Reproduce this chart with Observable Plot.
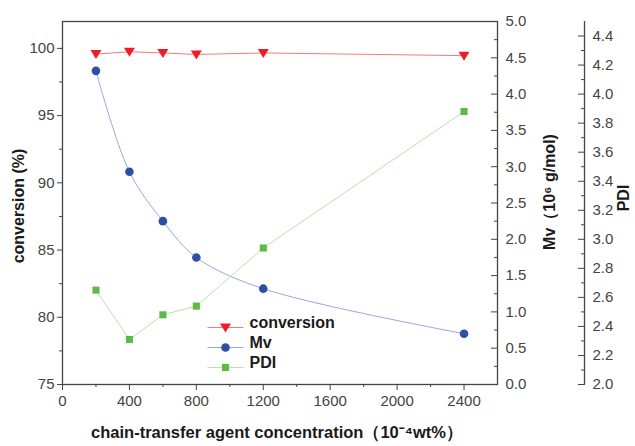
<!DOCTYPE html>
<html><head><meta charset="utf-8">
<script src="https://cdn.jsdelivr.net/npm/d3@7"></script>
<script src="https://cdn.jsdelivr.net/npm/@observablehq/plot@0.6"></script>
<style>body{margin:0;background:#fff}</style>
</head><body><div id="chart"></div>
<script>
const concentration = [200, 400, 600, 800, 1200, 2400];
const conversion = [99.58, 99.75, 99.66, 99.55, 99.66, 99.46];
const mv = [4.32, 2.93, 2.25, 1.75, 1.32, 0.70];
const pdi = [2.65, 2.31, 2.48, 2.54, 2.94, 3.88];
const seriesNames = ["conversion", "Mv", "PDI"];
const xTicks = [0, 400, 800, 1200, 1600, 2000, 2400];
const convTicks = [75, 80, 85, 90, 95, 100];
const mvTicks = [0, 0.5, 1, 1.5, 2, 2.5, 3, 3.5, 4, 4.5, 5];
const pdiTicks = [2.0, 2.2, 2.4, 2.6, 2.8, 3.0, 3.2, 3.4, 3.6, 3.8, 4.0, 4.2, 4.4];

const convDomain = [75, 102];
const mvDomain = [0, 5];
const pdiDomain = [2, 4.5];
const span = convDomain[1] - convDomain[0];
const mvY = v => convDomain[0] + (v - mvDomain[0]) / (mvDomain[1] - mvDomain[0]) * span;
const pdiY = v => convDomain[0] + (v - pdiDomain[0]) / (pdiDomain[1] - pdiDomain[0]) * span;
const mvInv = y => (y - convDomain[0]) / span * (mvDomain[1] - mvDomain[0]) + mvDomain[0];
const pdiInv = y => (y - convDomain[0]) / span * (pdiDomain[1] - pdiDomain[0]) + pdiDomain[0];

const rows = concentration.map((c, i) => ({c, conv: conversion[i], mv: mv[i], pdi: pdi[i]}));

const colors = {conversion: "#ee1c24", Mv: "#2f4fa6", PDI: "#5cbb45"};
const lineColors = {conversion: "#f37a7a", Mv: "#98a6e0", PDI: "#b9e2a6"};

const triDown = {draw(ctx) { ctx.moveTo(-5.5, -4); ctx.lineTo(5.5, -4); ctx.lineTo(0, 5); ctx.closePath(); }};
const legLine = {draw(ctx) { ctx.moveTo(-18, 0); ctx.lineTo(18, 0); }};
const symbols = {conversion: triDown, Mv: "circle", PDI: "square"};
const radii = {conversion: 4, Mv: 4.3, PDI: 4};

const axisColor = "#444";
const labelColor = "#1a1a1a";
const font = "Liberation Sans, Arial, sans-serif";

const legendMarks = seriesNames.flatMap((name, i) => {
  const dy = -57 + i * 20;
  return [
    Plot.dot([name], {frameAnchor: "bottom-left", dx: 163, dy, symbol: legLine, stroke: lineColors[name], fill: "none", strokeWidth: 1}),
    Plot.dot([name], {frameAnchor: "bottom-left", dx: 163, dy, symbol: symbols[name], r: radii[name], fill: colors[name], stroke: "none"}),
    Plot.text([name], {frameAnchor: "bottom-left", dx: 187, dy, text: d => d, textAnchor: "start", fontWeight: "bold", fontSize: 16, fill: labelColor})
  ];
});

const chart = Plot.plot({
  width: 635,
  height: 446,
  marginLeft: 62,
  marginRight: 138,
  marginTop: 21,
  marginBottom: 62,
  style: {fontFamily: font, fontSize: "15px", background: "#fff"},
  x: {domain: [0, 2600]},
  y: {domain: convDomain},
  marks: [
    Plot.frame({stroke: axisColor, strokeWidth: 1.3}),
    // left axis
    Plot.axisY(convTicks, {anchor: "left", tickSize: 5, tickPadding: 3, color: axisColor, label: null, tickFormat: d3.format("d")}),
    Plot.axisY(d3.range(77.5, 101, 5), {anchor: "left", tickSize: 3, stroke: axisColor, fill: "none", label: null}),
    // bottom axis
    Plot.axisX(xTicks, {anchor: "bottom", tickSize: 6, tickPadding: 5, color: axisColor, label: null, tickFormat: d3.format("d")}),
    Plot.axisX(d3.range(200, 2600, 400), {anchor: "bottom", tickSize: 3, stroke: axisColor, fill: "none", label: null}),
    // Mv axis (right, ticks inward)
    Plot.axisY(mvTicks.map(mvY), {anchor: "right", tickSize: -7, stroke: axisColor, fill: "none", label: null}),
    Plot.axisY(d3.range(0.25, 5, 0.5).map(mvY), {anchor: "right", tickSize: -4, stroke: axisColor, fill: "none", label: null}),
    Plot.axisY(mvTicks.map(mvY), {anchor: "right", tickSize: 0, tickPadding: 8, color: axisColor, label: null, tickFormat: d => mvInv(d).toFixed(1)}),
    // PDI axis (offset)
    Plot.ruleX([2600], {dx: 87, stroke: axisColor, strokeWidth: 1.3}),
    Plot.axisY(pdiTicks.map(pdiY), {anchor: "right", dx: 87, tickSize: -7, stroke: axisColor, fill: "none", label: null}),
    Plot.axisY(d3.range(2.1, 4.5, 0.2).map(pdiY), {anchor: "right", dx: 87, tickSize: -4, stroke: axisColor, fill: "none", label: null}),
    Plot.axisY(pdiTicks.map(pdiY), {anchor: "right", dx: 87, tickSize: 0, tickPadding: 8, color: axisColor, label: null, tickFormat: d => pdiInv(d).toFixed(1)}),
    // axis titles
    Plot.text(["conversion (%)"], {frameAnchor: "left", dx: -44, dy: 3, rotate: -90, textAnchor: "middle", text: d => d, fontWeight: "bold", fontSize: 16, fill: labelColor}),
    Plot.text(["Mv（10⁶ g/mol)"], {frameAnchor: "right", dx: 52, dy: -11, rotate: -90, textAnchor: "middle", text: d => d, fontWeight: "bold", fontSize: 16, fill: labelColor}),
    Plot.text(["PDI"], {frameAnchor: "right", dx: 126, dy: -5, rotate: -90, textAnchor: "middle", text: d => d, fontWeight: "bold", fontSize: 16, fill: labelColor}),
    Plot.text(["chain-transfer agent concentration（10⁻⁴wt%）"], {frameAnchor: "bottom", dx: -3, dy: 53, text: d => d, fontWeight: "bold", fontSize: 16.5, fill: labelColor}),
    // series lines
    Plot.line(rows, {x: "c", y: "conv", stroke: lineColors.conversion, strokeWidth: 1}),
    Plot.line(rows, {x: "c", y: d => mvY(d.mv), stroke: lineColors.Mv, strokeWidth: 1, curve: "catmull-rom"}),
    Plot.line(rows, {x: "c", y: d => pdiY(d.pdi), stroke: lineColors.PDI, strokeWidth: 1}),
    // series markers
    Plot.dot(rows, {x: "c", y: "conv", symbol: triDown, fill: colors.conversion, stroke: "none"}),
    Plot.dot(rows, {x: "c", y: d => mvY(d.mv), symbol: "circle", r: radii.Mv, fill: colors.Mv, stroke: "none"}),
    Plot.dot(rows, {x: "c", y: d => pdiY(d.pdi), symbol: "square", r: radii.PDI, fill: colors.PDI, stroke: "none"}),
    ...legendMarks
  ]
});
document.getElementById("chart").appendChild(chart);
</script>
</body></html>
